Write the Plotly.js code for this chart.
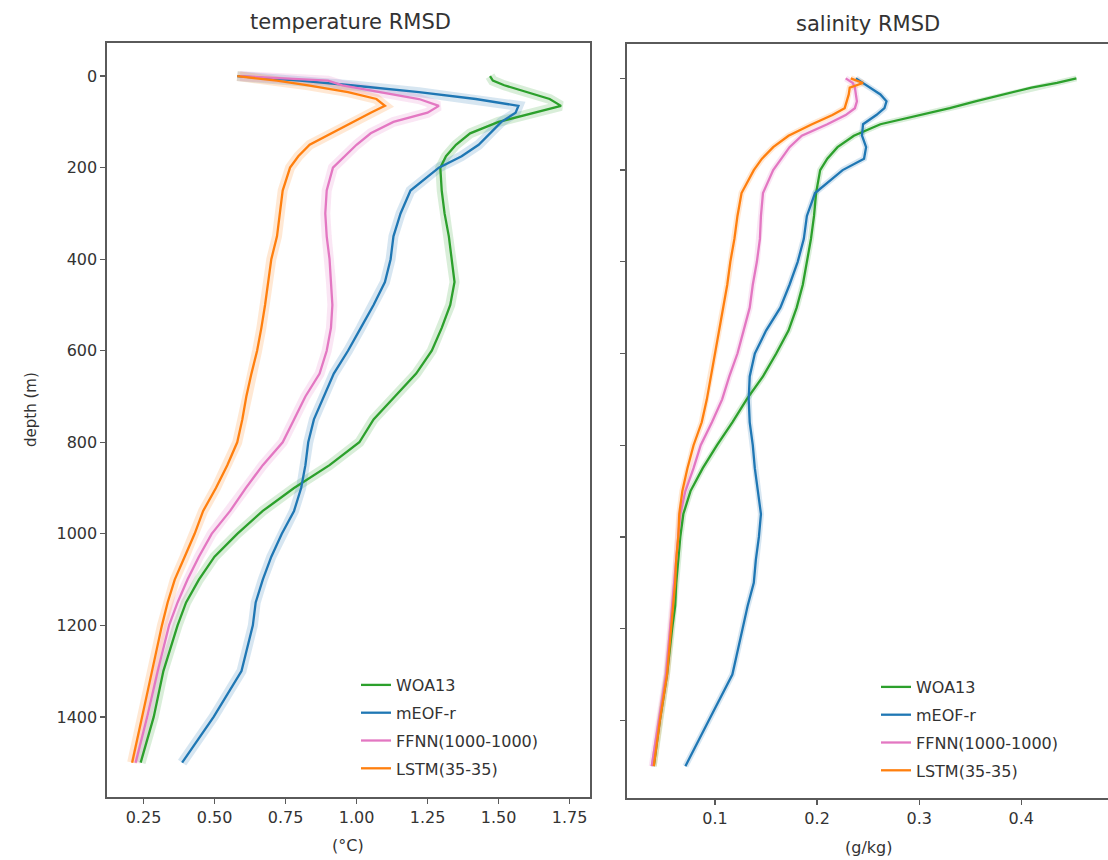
<!DOCTYPE html>
<html>
<head>
<meta charset="utf-8">
<script src="https://cdn.plot.ly/plotly-3.0.1.min.js"></script>
<style>
  html, body { margin: 0; padding: 0; overflow: hidden; background: #fff; }
  #chart { width: 1140px; height: 860px; }
</style>
</head>
<body>
<div id="chart"></div>
<script>
// ---- data ----
const depth = [0,10,20,35,50,65,80,100,125,150,175,200,250,300,350,400,450,500,550,600,650,700,750,800,850,900,950,1000,1050,1100,1150,1200,1300,1400,1500];

const seriesNames = ["WOA13", "mEOF-r", "FFNN(1000-1000)", "LSTM(35-35)"];

// temperature RMSD (°C)
const tempWOA13 = [1.47,1.48,1.52,1.60,1.68,1.72,1.63,1.50,1.40,1.35,1.315,1.295,1.30,1.31,1.325,1.335,1.345,1.33,1.30,1.265,1.21,1.135,1.06,1.01,0.905,0.78,0.67,0.58,0.50,0.445,0.40,0.37,0.32,0.286,0.24];
const tempMEOF  = [0.58,0.80,0.98,1.22,1.42,1.57,1.56,1.51,1.47,1.43,1.37,1.29,1.19,1.155,1.13,1.12,1.10,1.06,1.015,0.97,0.92,0.885,0.85,0.83,0.82,0.805,0.78,0.737,0.70,0.67,0.645,0.635,0.595,0.497,0.386];
const tempFFNN  = [0.59,0.90,0.95,1.08,1.22,1.29,1.25,1.13,1.05,1.00,0.96,0.917,0.895,0.89,0.895,0.905,0.91,0.915,0.91,0.895,0.87,0.82,0.78,0.74,0.67,0.61,0.555,0.49,0.445,0.405,0.37,0.34,0.30,0.263,0.222];
const tempLSTM  = [0.58,0.72,0.83,0.97,1.07,1.10,1.05,0.99,0.91,0.835,0.795,0.766,0.74,0.73,0.72,0.70,0.69,0.678,0.665,0.65,0.63,0.612,0.598,0.58,0.545,0.505,0.46,0.43,0.395,0.36,0.335,0.315,0.28,0.245,0.21];

// salinity RMSD (g/kg)
const salWOA13 = [0.454,0.435,0.41,0.382,0.355,0.33,0.30,0.262,0.236,0.22,0.21,0.203,0.199,0.197,0.194,0.19,0.186,0.18,0.172,0.16,0.147,0.131,0.117,0.102,0.088,0.076,0.069,0.066,0.064,0.062,0.061,0.058,0.053,0.046,0.04];
const salMEOF  = [0.238,0.245,0.252,0.262,0.268,0.266,0.258,0.245,0.244,0.248,0.246,0.225,0.198,0.19,0.187,0.181,0.173,0.164,0.15,0.139,0.134,0.133,0.134,0.137,0.139,0.142,0.145,0.143,0.14,0.138,0.132,0.127,0.117,0.094,0.071];
const salFFNN  = [0.228,0.235,0.237,0.238,0.239,0.237,0.228,0.21,0.185,0.173,0.165,0.157,0.147,0.145,0.144,0.141,0.137,0.134,0.128,0.122,0.114,0.107,0.097,0.086,0.079,0.071,0.066,0.064,0.062,0.06,0.058,0.056,0.052,0.045,0.038];
const salLSTM  = [0.233,0.245,0.232,0.231,0.229,0.227,0.215,0.195,0.172,0.157,0.146,0.138,0.126,0.122,0.119,0.115,0.112,0.108,0.104,0.10,0.096,0.092,0.087,0.079,0.073,0.068,0.065,0.064,0.062,0.061,0.059,0.057,0.053,0.046,0.04];

const depthTicks = [0,200,400,600,800,1000,1200,1400];
const depthTickText = ["0","200","400","600","800","1000","1200","1400"];
const tempTicks = [0.25,0.50,0.75,1.00,1.25,1.50,1.75];
const tempTickText = ["0.25","0.50","0.75","1.00","1.25","1.50","1.75"];
const salTicks = [0.1,0.2,0.3,0.4];
const salTickText = ["0.1","0.2","0.3","0.4"];

// ---- styles ----
const colors = ["#2ca02c", "#1f77b4", "#e377c2", "#ff7f0e"];
const bandColors = ["rgba(44,160,44,0.18)", "rgba(31,119,180,0.18)", "rgba(227,119,194,0.18)", "rgba(255,127,14,0.18)"];
const W = 1140, H = 860;
const FONT = "DejaVu Sans, Liberation Sans, sans-serif";

const tempSeries = [tempWOA13, tempMEOF, tempFFNN, tempLSTM];
const salSeries = [salWOA13, salMEOF, salFFNN, salLSTM];

const traces = [];
function addPanel(seriesList, xa, ya, legendId, bandW, prefix) {
  seriesList.forEach((vals, i) => {
    traces.push({
      type: "scatter", mode: "lines", x: vals, y: depth, xaxis: xa, yaxis: ya,
      line: { color: bandColors[i], width: bandW }, showlegend: false, hoverinfo: "skip"
    });
  });
  seriesList.forEach((vals, i) => {
    traces.push({
      type: "scatter", mode: "lines", x: vals, y: depth, xaxis: xa, yaxis: ya,
      name: seriesNames[i], legend: legendId, legendgroup: prefix + i,
      line: { color: colors[i], width: 2.3 }
    });
  });
}
addPanel(tempSeries, "x", "y", "legend", 10, "t");
addPanel(salSeries, "x2", "y2", "legend2", 6, "s");

const axisCommon = {
  showgrid: false, zeroline: false, showline: true, mirror: true,
  linecolor: "#5a5a5a", linewidth: 1.6, ticks: "outside", ticklen: 5,
  tickcolor: "#5a5a5a", tickwidth: 1.3,
  tickfont: { family: FONT, size: 16, color: "#333" }
};

const legendCommon = {
  bgcolor: "rgba(0,0,0,0)", borderwidth: 0, xanchor: "left", yanchor: "top",
  font: { family: FONT, size: 16, color: "#333" }, tracegroupgap: 4, traceorder: "grouped"
};

const layout = {
  width: W, height: H,
  margin: { l: 0, r: 0, t: 0, b: 0 },
  paper_bgcolor: "#fff", plot_bgcolor: "#fff",
  font: { family: FONT, color: "#333" },
  xaxis: Object.assign({}, axisCommon, {
    domain: [107 / W, 590 / W], range: [0.1215, 1.822], anchor: "y",
    tickvals: tempTicks, ticktext: tempTickText
  }),
  yaxis: Object.assign({}, axisCommon, {
    domain: [1 - 797 / H, 1 - 42.7 / H], range: [1575, -73], anchor: "x",
    tickvals: depthTicks, ticktext: depthTickText
  }),
  xaxis2: Object.assign({}, axisCommon, {
    domain: [627 / W, 1130 / W], range: [0.0138, 0.5065], anchor: "y2",
    tickvals: salTicks, ticktext: salTickText
  }),
  yaxis2: Object.assign({}, axisCommon, {
    domain: [1 - 798.3 / H, 1 - 44 / H], range: [1570, -75], anchor: "x2",
    tickvals: depthTicks, showticklabels: false
  }),
  legend: Object.assign({}, legendCommon, { x: 356 / W, y: 1 - 668 / H }),
  legend2: Object.assign({}, legendCommon, { x: 876 / W, y: 1 - 670 / H }),
  annotations: [
    { text: "temperature RMSD", xref: "paper", yref: "paper", x: 350 / W, y: 1 - 22 / H,
      showarrow: false, xanchor: "center", yanchor: "middle", font: { family: FONT, size: 21, color: "#333" } },
    { text: "salinity RMSD", xref: "paper", yref: "paper", x: 868 / W, y: 1 - 24 / H,
      showarrow: false, xanchor: "center", yanchor: "middle", font: { family: FONT, size: 21, color: "#333" } },
    { text: "(°C)", xref: "paper", yref: "paper", x: 348 / W, y: 1 - 845 / H,
      showarrow: false, xanchor: "center", yanchor: "middle", font: { family: FONT, size: 16, color: "#333" } },
    { text: "(g/kg)", xref: "paper", yref: "paper", x: 868 / W, y: 1 - 847 / H,
      showarrow: false, xanchor: "center", yanchor: "middle", font: { family: FONT, size: 16, color: "#333" } },
    { text: "depth (m)", xref: "paper", yref: "paper", x: 31 / W, y: 1 - 410 / H, textangle: -90,
      showarrow: false, xanchor: "center", yanchor: "middle", font: { family: FONT, size: 15, color: "#333" } }
  ]
};

Plotly.newPlot("chart", traces, layout, { displayModeBar: false, staticPlot: true });
</script>
</body>
</html>
